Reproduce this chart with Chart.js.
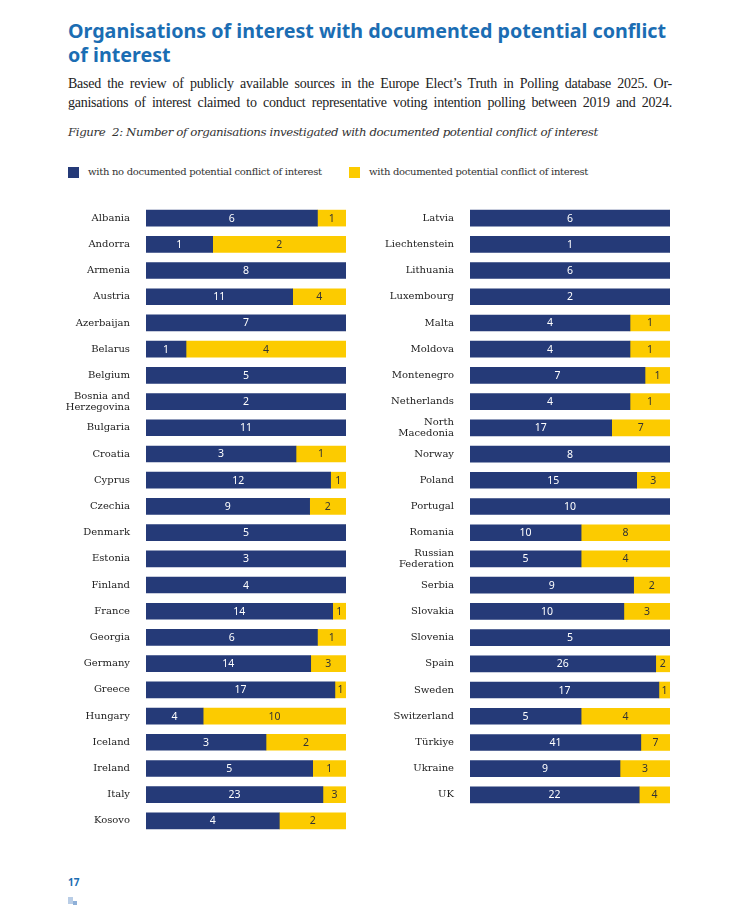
<!DOCTYPE html>
<html>
<head>
<meta charset="utf-8">
<script src="https://cdn.jsdelivr.net/npm/chart.js@4.4.1/dist/chart.umd.min.js"></script>
<style>
  body { margin: 0; background: #fff; width: 742px; height: 907px; position: relative; overflow: hidden; }
  .title { position: absolute; left: 68px; top: 19px; width: 605px; font-family: "Noto Sans", sans-serif; font-weight: 700; font-size: 19.7px; line-height: 24px; color: #1b6db3; }
  .sub { position: absolute; left: 68px; top: 74px; width: 604px; font-family: "Liberation Serif", serif; font-size: 14px; line-height: 19px; color: #222; letter-spacing: -0.25px; }
  .sub span { display: block; text-align: justify; text-align-last: justify; }
  .fig { position: absolute; left: 68px; top: 125px; font-family: "DejaVu Serif", serif; font-style: italic; font-size: 11.8px; color: #333; letter-spacing: -0.4px; }
  .legend { position: absolute; top: 166px; font-family: "DejaVu Serif", serif; font-size: 10px; color: #333; letter-spacing: -0.3px; }
  .legend span.box { position: absolute; left: 0; top: 1px; width: 11px; height: 11px; }
  .legend span.txt { position: absolute; left: 20px; top: 0; white-space: nowrap; }
  .page { position: absolute; left: 68px; top: 875px; font-family: "Noto Sans", sans-serif; font-weight: 700; font-size: 10px; color: #1b6db3; }
  .sq { position: absolute; background: #b9cde6; }
  #leftWrap { position: absolute; left: 0; top: 205px; width: 346px; height: 629px; }
  #rightWrap { position: absolute; left: 324px; top: 205px; width: 346px; height: 603px; }
</style>
</head>
<body>
<div class="title">Organisations of interest with documented potential conflict of interest</div>
<div class="sub"><span>Based the review of publicly available sources in the Europe Elect’s Truth in Polling database 2025. Or-</span><span>ganisations of interest claimed to conduct representative voting intention polling between 2019 and 2024.</span></div>
<div class="fig">Figure&nbsp; 2: Number of organisations investigated with documented potential conflict of interest</div>
<div class="legend" style="left:68px"><span class="box" style="background:#253a78"></span><span class="txt">with no documented potential conflict of interest</span></div>
<div class="legend" style="left:349px"><span class="box" style="background:#fccb00"></span><span class="txt">with documented potential conflict of interest</span></div>
<div id="leftWrap"><canvas id="leftChart"></canvas></div>
<div id="rightWrap"><canvas id="rightChart"></canvas></div>
<div class="page">17</div>
<div class="sq" style="left:68px;top:897px;width:5px;height:7px"></div>
<div class="sq" style="left:73px;top:901px;width:4px;height:4px;background:#8fb0d8"></div>
<script>
// Данные: левая колонка
const leftCountries = ['Albania', 'Andorra', 'Armenia', 'Austria', 'Azerbaijan', 'Belarus', 'Belgium',
    ['Bosnia and', 'Herzegovina'], 'Bulgaria', 'Croatia', 'Cyprus', 'Czechia', 'Denmark', 'Estonia',
    'Finland', 'France', 'Georgia', 'Germany', 'Greece', 'Hungary', 'Iceland', 'Ireland', 'Italy', 'Kosovo'];
const leftNoConflict = [6, 1, 8, 11, 7, 1, 5, 2, 11, 3, 12, 9, 5, 3, 4, 14, 6, 14, 17, 4, 3, 5, 23, 4];
const leftConflict   = [1, 2, 0, 4, 0, 4, 0, 0, 0, 1, 1, 2, 0, 0, 0, 1, 1, 3, 1, 10, 2, 1, 3, 2];

// Данные: правая колонка
const rightCountries = ['Latvia', 'Liechtenstein', 'Lithuania', 'Luxembourg', 'Malta', 'Moldova',
    'Montenegro', 'Netherlands', ['North', 'Macedonia'], 'Norway', 'Poland', 'Portugal', 'Romania',
    ['Russian', 'Federation'], 'Serbia', 'Slovakia', 'Slovenia', 'Spain', 'Sweden', 'Switzerland',
    'Türkiye', 'Ukraine', 'UK'];
const rightNoConflict = [6, 1, 6, 2, 4, 4, 7, 4, 17, 8, 15, 10, 10, 5, 9, 10, 5, 26, 17, 5, 41, 9, 22];
const rightConflict   = [0, 0, 0, 0, 1, 1, 1, 1, 7, 0, 3, 0, 8, 4, 2, 3, 0, 2, 1, 4, 7, 3, 4];

const NAVY = '#253a78';
const YELLOW = '#fccb00';
const SERIF = '"DejaVu Serif", serif';

// Подписи с исходными числами поверх сегментов
const countLabels = {
    id: 'countLabels',
    afterDatasetsDraw(chart) {
        const ctx = chart.ctx;
        ctx.save();
        ctx.font = '10.5px "Noto Sans", sans-serif';
        ctx.textAlign = 'center';
        ctx.textBaseline = 'middle';
        chart.data.datasets.forEach((ds, i) => {
            const meta = chart.getDatasetMeta(i);
            meta.data.forEach((bar, j) => {
                const count = ds.counts[j];
                if (!count) return;
                const p = bar.getCenterPoint();
                ctx.fillStyle = i === 0 ? '#ffffff' : '#333333';
                ctx.fillText(String(count), p.x, p.y + 0.5);
            });
        });
        ctx.restore();
    }
};

function renderPanel(canvasId, countries, noConflict, conflict) {
    const totals = noConflict.map((v, i) => v + conflict[i]);
    return new Chart(document.getElementById(canvasId), {
        type: 'bar',
        data: {
            labels: countries,
            datasets: [
                {
                    label: 'with no documented potential conflict of interest',
                    data: noConflict.map((v, i) => v / totals[i] * 100),
                    counts: noConflict,
                    backgroundColor: NAVY,
                    barThickness: 16
                },
                {
                    label: 'with documented potential conflict of interest',
                    data: conflict.map((v, i) => v / totals[i] * 100),
                    counts: conflict,
                    backgroundColor: YELLOW,
                    barThickness: 16
                }
            ]
        },
        options: {
            indexAxis: 'y',
            responsive: true,
            maintainAspectRatio: false,
            animation: false,
            layout: { padding: 0 },
            scales: {
                x: { stacked: true, display: false, min: 0, max: 100 },
                y: {
                    stacked: true,
                    grid: { display: false, tickLength: 16 },
                    border: { display: false },
                    ticks: {
                        color: '#222',
                        font: { family: SERIF, size: 10, lineHeight: 1.1 },
                        padding: 0
                    },
                    afterFit(scale) {
                        scale.width = 146;
                        scale.paddingTop = 0;
                        scale.paddingBottom = 0;
                    }
                }
            },
            plugins: {
                legend: { display: false },
                tooltip: { enabled: false }
            }
        },
        plugins: [countLabels]
    });
}

renderPanel('leftChart', leftCountries, leftNoConflict, leftConflict);
renderPanel('rightChart', rightCountries, rightNoConflict, rightConflict);
</script>
</body>
</html>
